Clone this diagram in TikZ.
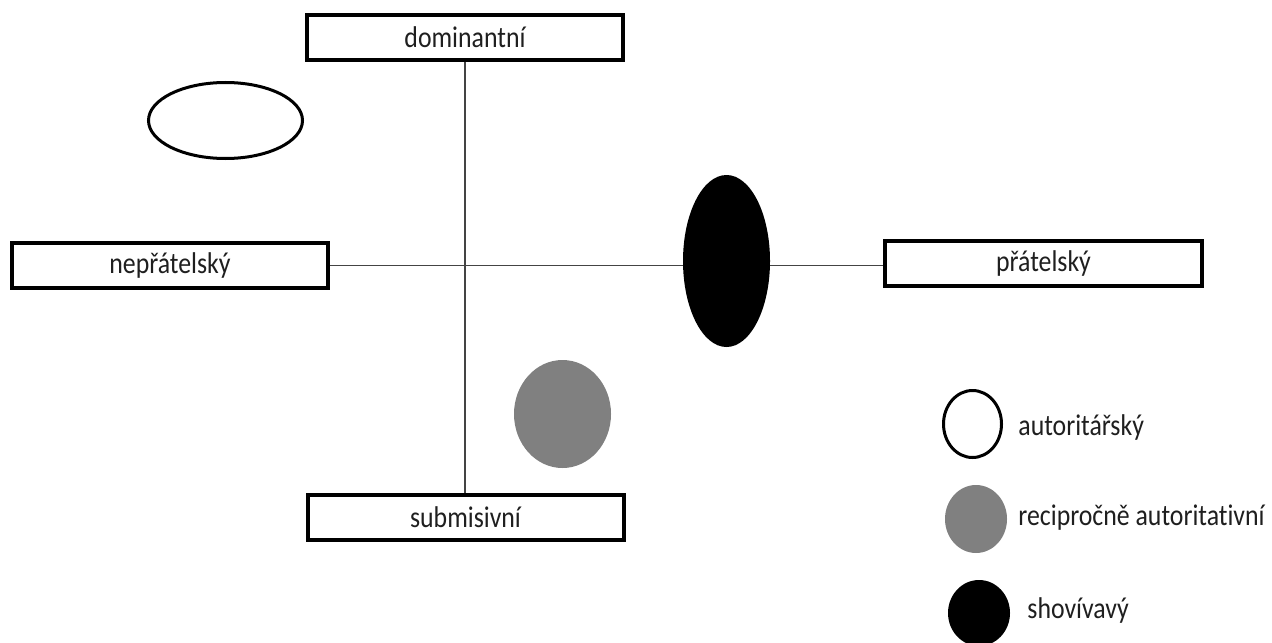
\documentclass[tikz,border=0pt]{standalone}
\usepackage{fontspec}
\usepackage{graphicx}
\setmainfont[Ligatures=NoCommon]{Carlito}
\usetikzlibrary{shapes.geometric}
\definecolor{axisgray}{HTML}{444444}
\definecolor{blobgray}{HTML}{808080}
\newcommand\narrowtxt[1]{\scalebox{0.86}[1]{#1}}
\begin{document}
\begin{tikzpicture}[x=0.5pt,y=-0.5pt,
  labelbox/.style={draw=black,line width=2pt,fill=white,minimum width=#1,minimum height=22.5pt,inner sep=0pt,font=\fontsize{15}{17}\selectfont,text=black!88},
  axis/.style={draw=axisgray,line width=0.7pt},
  blob/.style={ellipse,inner sep=0pt},
  legtext/.style={anchor=west,inner sep=0pt,font=\fontsize{15}{17}\selectfont,text=black!88}]
\useasboundingbox[fill=white] (0,0) rectangle (1272,642);
% boxes
\node[labelbox=158pt] (dom) at (465,37.5) {\narrowtxt{dominantní}};
\node[labelbox=158pt] (sub) at (465.5,517.5) {\narrowtxt{submisivní}};
\node[labelbox=158pt] (nep) at (170,265.5) {\narrowtxt{nepřátelský}};
\node[labelbox=158.5pt] (pra) at (1043.5,263.5) {\narrowtxt{přátelský}};
% axes
\draw[axis] (dom.south) -- (dom.south |- sub.north);
\draw[axis] (nep.east) -- (nep.east -| pra.west);
% chart blobs
\node[blob,draw=black,line width=1.5pt,fill=white,minimum width=77pt,minimum height=38pt] (aut) at (225.5,120.5) {};
\node[blob,fill=black,minimum width=43.5pt,minimum height=86pt] (shov) at (726.5,261) {};
\node[blob,fill=blobgray,minimum width=48.5pt,minimum height=54pt] (rec) at (562.5,414) {};
% legend
\node[blob,draw=black,line width=1.5pt,fill=white,minimum width=29pt,minimum height=33.5pt] (l1) at (972.5,424) {};
\node[blob,fill=blobgray,minimum width=31pt,minimum height=34pt] (l2) at (976,519) {};
\node[blob,fill=black,minimum width=31pt,minimum height=33pt] (l3) at (979,613) {};
\node[legtext] (t1) at (1018,427) {\narrowtxt{autoritářský}};
\node[legtext] (t2) at (1018,518) {\narrowtxt{recipročně autoritativní}};
\node[legtext] (t3) at (1027,610) {\narrowtxt{shovívavý}};
\end{tikzpicture}
\end{document}
